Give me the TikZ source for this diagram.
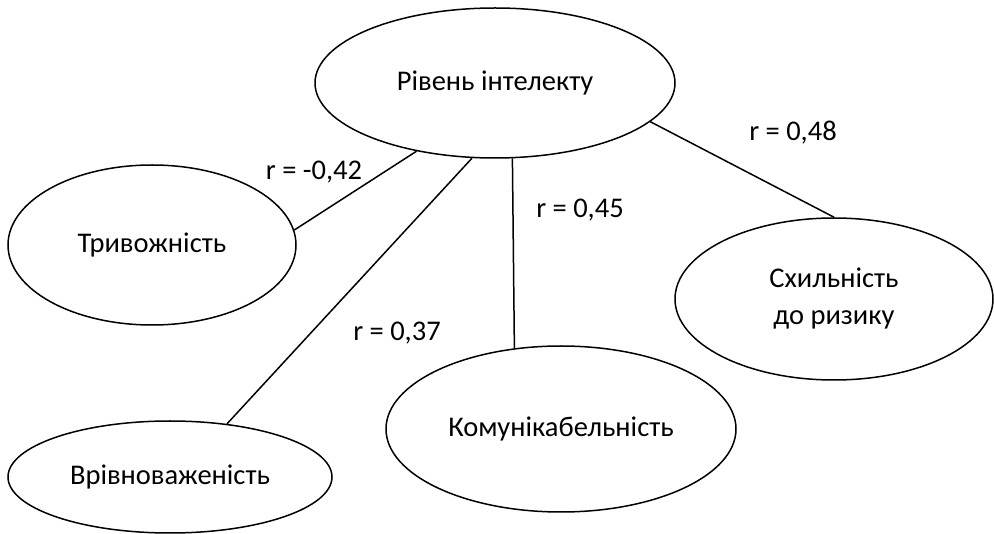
\documentclass[tikz,border=0pt]{standalone}
\usepackage{fontspec}
\setmainfont{Carlito}
\usetikzlibrary{shapes.geometric}
\tikzset{
  oval/.style={ellipse, draw=black, line width=1.5pt, inner sep=0pt, align=center,
    font=\fontsize{28.5}{37}\selectfont},
  lbl/.style={inner sep=0pt, font=\fontsize{28.5}{37}\selectfont},
  link/.style={draw=black, line width=1.5pt}
}
\begin{document}
\begin{tikzpicture}[x=1pt,y=-1pt]
\useasboundingbox (0,0) rectangle (994,534);
\node[oval, minimum width=360pt, minimum height=150pt] (top) at (495,83) {Рівень інтелекту};
\node[oval, minimum width=288pt, minimum height=160pt] (tryv) at (152,245) {Тривожність};
\node[oval, minimum width=324pt, minimum height=112pt] (vriv) at (170,477) {Врівноваженість};
\node[oval, minimum width=350pt, minimum height=166pt] (komu) at (561,429) {Комунікабельність};
\node[oval, minimum width=318pt, minimum height=162pt] (schy) at (834,299) {Схильність\\до ризику};
\draw[link] (top.221.9) -- (tryv.6.9);
\draw[link] (top.253.9) -- (vriv.43);
\draw[link] (top.283.3) -- (komu.120.65);
\draw[link] (top.346.9) -- (schy.90.7);
\node[lbl] (l1) at (314,172) {r = -0,42};
\node[lbl] (l2) at (397,333) {r = 0,37};
\node[lbl] (l3) at (580,210) {r = 0,45};
\node[lbl] (l4) at (793,133) {r = 0,48};
\end{tikzpicture}
\end{document}
